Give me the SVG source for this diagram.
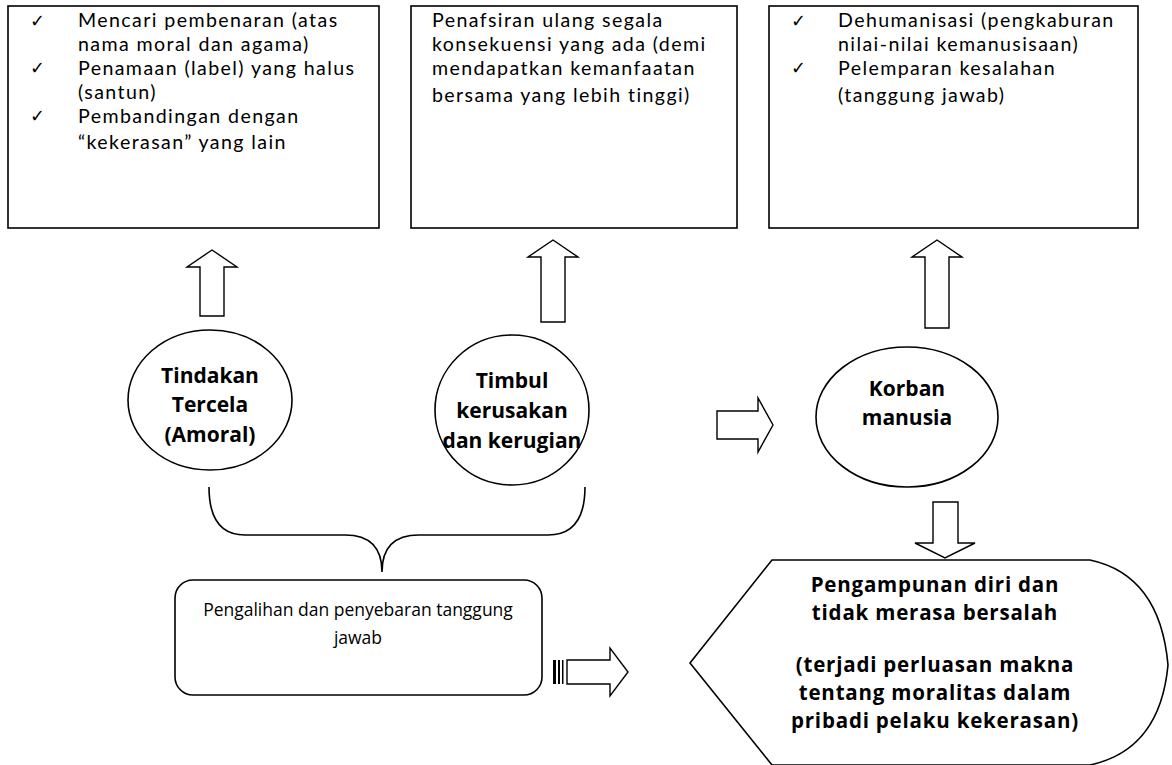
<svg xmlns="http://www.w3.org/2000/svg" width="1172" height="765" viewBox="0 0 1172 765">
<style>
.shape{fill:#fff;stroke:#000;stroke-width:1.6}
.arr{fill:#fff;stroke:#000;stroke-width:1.4;stroke-linejoin:miter}
.t{font-family:Lato,"Open Sans",sans-serif;font-size:19.6px;letter-spacing:1.4px;fill:#000}
.s{font-family:"Open Sans",Lato,sans-serif;font-size:17.5px;fill:#000;text-anchor:middle}
.b{font-family:"Open Sans",Lato,sans-serif;font-size:21px;font-weight:bold;fill:#000;text-anchor:middle}
.d{font-family:"Open Sans",Lato,sans-serif;font-size:20.5px;letter-spacing:0.8px;font-weight:bold;fill:#000;text-anchor:middle}
.ck{font-family:"DejaVu Sans",sans-serif;font-size:18px;fill:#000}
</style>
<rect width="1172" height="765" fill="#fff"/>
<g id="box1">
<rect class="shape" x="8" y="6" width="371" height="222"/>
<text class="ck" x="30" y="27">✓</text>
<text class="ck" x="30" y="74">✓</text>
<text class="ck" x="30" y="122">✓</text>
<text class="t" x="78" y="27">Mencari pembenaran (atas</text>
<text class="t" x="78" y="51">nama moral dan agama)</text>
<text class="t" x="78" y="75">Penamaan (label) yang halus</text>
<text class="t" x="78" y="99">(santun)</text>
<text class="t" x="78" y="123">Pembandingan dengan</text>
<text class="t" x="78" y="149">“kekerasan” yang lain</text>
</g>
<g id="box2">
<rect class="shape" x="411" y="6" width="326" height="222"/>
<text class="t" x="432" y="27">Penafsiran ulang segala</text>
<text class="t" x="432" y="51">konsekuensi yang ada (demi</text>
<text class="t" x="432" y="75">mendapatkan kemanfaatan</text>
<text class="t" x="432" y="102">bersama yang lebih tinggi)</text>
</g>
<g id="box3">
<rect class="shape" x="769" y="6" width="369" height="222"/>
<text class="ck" x="791" y="27">✓</text>
<text class="ck" x="791" y="74">✓</text>
<text class="t" x="838" y="27">Dehumanisasi (pengkaburan</text>
<text class="t" x="838" y="51">nilai-nilai kemanusisaan)</text>
<text class="t" x="838" y="75">Pelemparan kesalahan</text>
<text class="t" x="838" y="102">(tanggung jawab)</text>
</g>
<g id="ellipse1">
<ellipse class="shape" cx="210" cy="400" rx="82" ry="70"/>
<text class="b" x="210" y="383">Tindakan</text>
<text class="b" x="210" y="412">Tercela</text>
<text class="b" x="210" y="442">(Amoral)</text>
</g>
<g id="ellipse2">
<ellipse class="shape" cx="512" cy="410" rx="77" ry="75"/>
<text class="b" x="512" y="388">Timbul</text>
<text class="b" x="512" y="418">kerusakan</text>
<text class="b" x="512" y="448">dan kerugian</text>
</g>
<g id="ellipse3">
<ellipse class="shape" cx="907" cy="417" rx="91" ry="70"/>
<text class="b" x="907" y="396">Korban</text>
<text class="b" x="907" y="425">manusia</text>
</g>
<g id="roundbox">
<rect class="shape" x="175" y="580" width="367" height="115" rx="18"/>
<text class="s" x="358" y="616">Pengalihan dan penyebaran tanggung</text>
<text class="s" x="358" y="644">jawab</text>
</g>
<g id="display">
<path class="shape" d="M690,663 L772,560 L1090,560 Q1160,575 1168,665 Q1160,750 1090,765 L772,765 Z"/>
<text class="d" x="935" y="592">Pengampunan diri dan</text>
<text class="d" x="935" y="620">tidak merasa bersalah</text>
<text class="d" x="935" y="672">(terjadi perluasan makna</text>
<text class="d" x="935" y="700">tentang moralitas dalam</text>
<text class="d" x="935" y="728">pribadi pelaku kekerasan)</text>
</g>
<g id="connectors">
<path class="arr" d="M212,250 L237,267 L224,267 L224,316 L200,316 L200,267 L187,267 Z"/>
<path class="arr" d="M553,240 L578,257 L565,257 L565,322 L541,322 L541,257 L528,257 Z"/>
<path class="arr" d="M937,240 L962,257 L949,257 L949,328 L925,328 L925,257 L912,257 Z"/>
<path class="arr" d="M717,411 L758,411 L758,398 L773,425 L758,452 L758,439 L717,439 Z"/>
<path class="arr" d="M933,502 L958,502 L958,543 L975,543 L945,558 L915,543 L933,543 Z"/>
<path class="arr" d="M567,660 L610,660 L610,648 L628,672 L610,696 L610,684 L567,684 Z"/>
<rect x="553" y="660" width="3" height="24" fill="#000"/>
<rect x="558" y="660" width="2" height="24" fill="#000"/>
<rect x="562" y="660" width="1.5" height="24" fill="#000"/>
<path fill="none" stroke="#000" stroke-width="1.6" d="M209,487 Q209,535 245,535 L345,535 Q382,535 382,572 Q382,535 419,535 L548,535 Q585,535 585,487"/>
</g>
</svg>
